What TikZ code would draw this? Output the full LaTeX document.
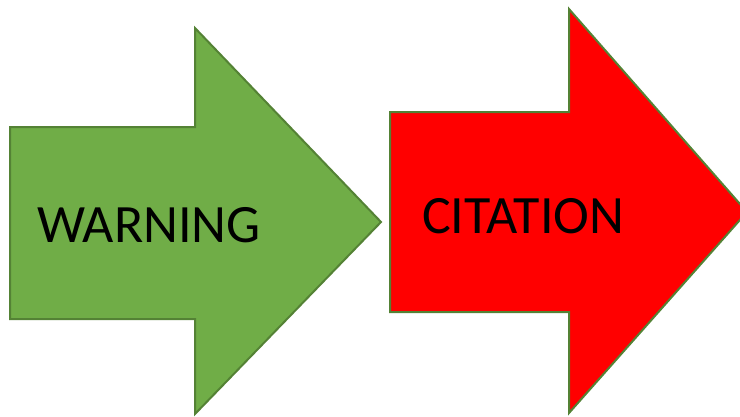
\documentclass[tikz,border=0pt]{standalone}
\usepackage{fontspec}
\setmainfont{Carlito}
\definecolor{arrowgreen}{HTML}{70AD47}
\definecolor{arrowedge}{HTML}{548235}
\definecolor{arrowred}{HTML}{FF0000}
\begin{document}
\begin{tikzpicture}[x=1pt,y=-1pt,
  blockarrow/.style={draw=arrowedge, line width=2pt, line join=miter},
  label/.style={anchor=base west, inner sep=0pt, font=\fontsize{54}{60}\selectfont, text=black}]
\useasboundingbox (0,0) rectangle (740,416);
\clip (0,0) rectangle (740,416);
% first block arrow
\path[blockarrow, fill=arrowgreen]
  (10,127) -- (195,127) -- (195,28) -- (381,222) -- (195,414) -- (195,319) -- (10,319) -- cycle;
% second block arrow, its point runs past the right edge
\path[blockarrow, fill=arrowred]
  (390,112) -- (569,112) -- (569,9) -- (747,212) -- (569,413) -- (569,312) -- (390,312) -- cycle;
\node[label] (warning) at (37,242) {WARNING};
\node[label] (citation) at (422,233) {CITATION};
\end{tikzpicture}
\end{document}
